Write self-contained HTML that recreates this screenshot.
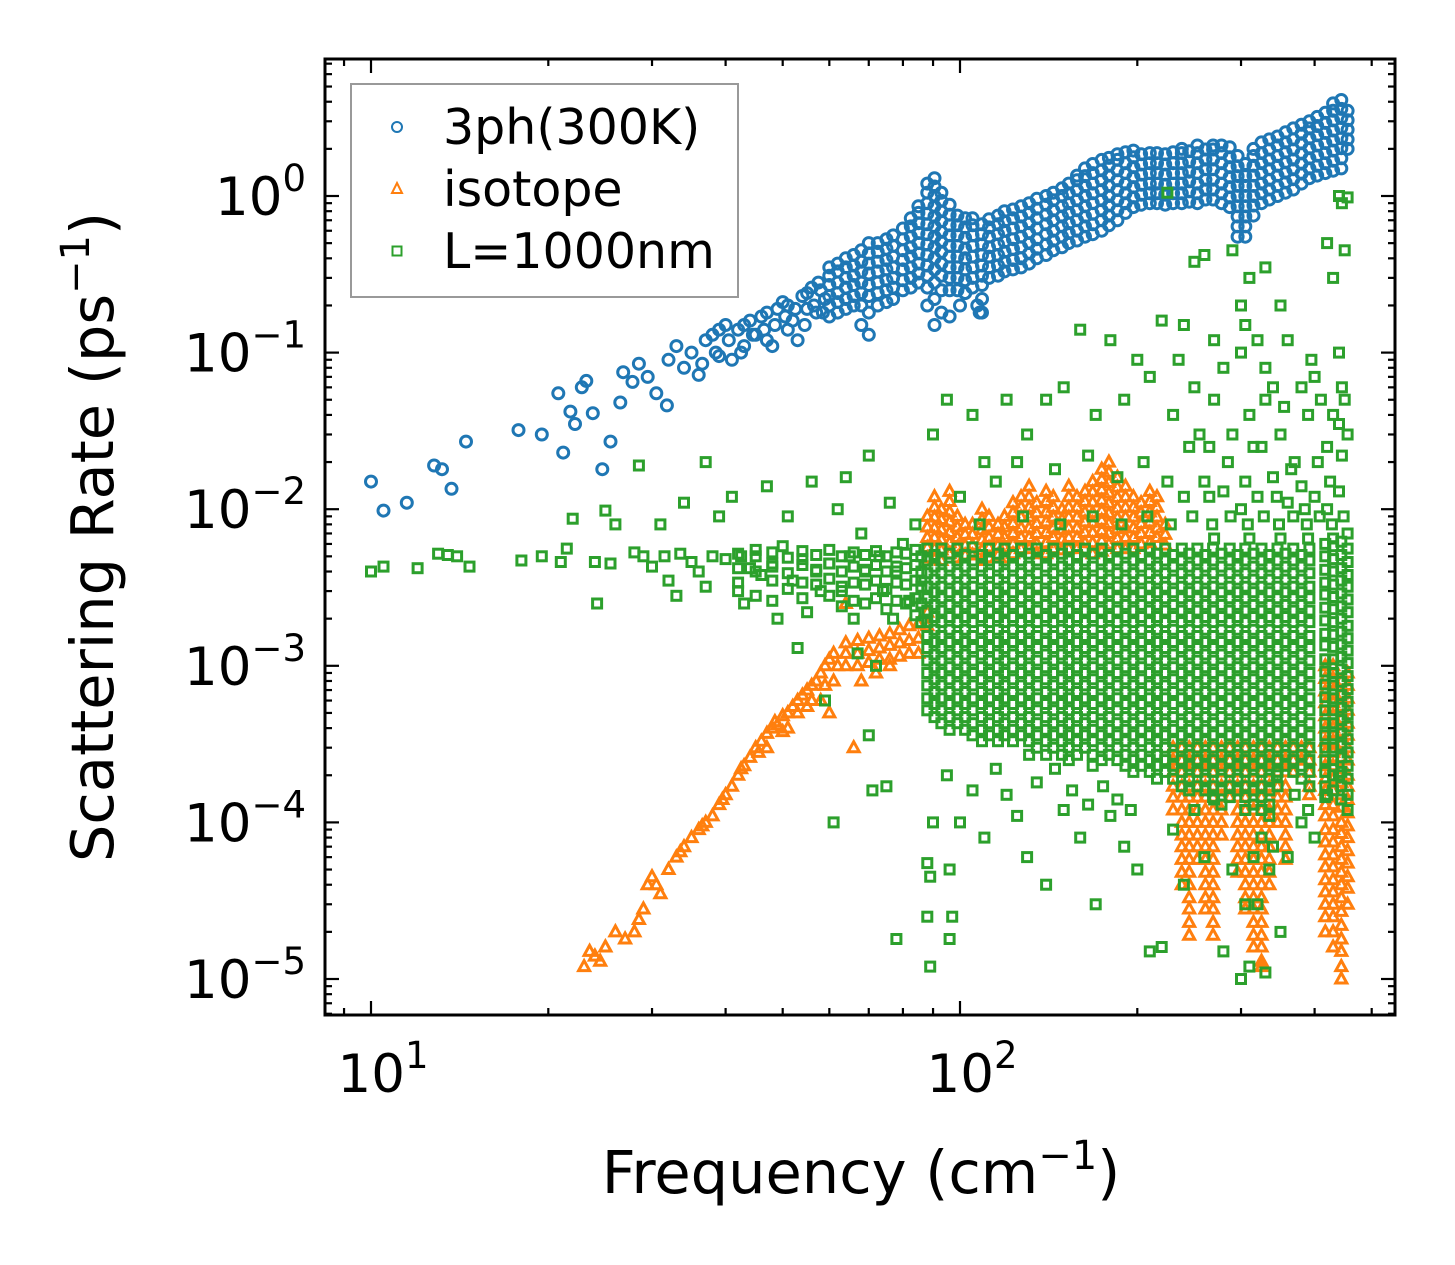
<!DOCTYPE html>
<html><head><meta charset="utf-8"><style>
html,body{margin:0;padding:0;background:#fff;}
svg{display:block;font-family:"DejaVu Sans","Liberation Sans",sans-serif;}
</style></head><body>
<svg id="chart" width="1455" height="1265" viewBox="0 0 1455 1265" xmlns="http://www.w3.org/2000/svg"></svg>
<script>
const seriesNames = ["3ph(300K)", "isotope", "L=1000nm"];
const xTickValues = [10, 100];
const yTickExponents = [0, -1, -2, -3, -4, -5];
// sparse points [frequency cm^-1, rate ps^-1]
const blueData = [[10,.015],[10.5,.0098],[11.5,.011],[12.8,.019],[13.2,.018],[13.7,.0135],[14.5,.027],[17.8,.032],[19.5,.03],[20.8,.055],[21.2,.023],[21.8,.042],[22.2,.035],[22.8,.06],[23.2,.066],[23.8,.041],[24.7,.018],[25.5,.027],[26.5,.048],[26.8,.075],[27.8,.065],[28.5,.085],[29.5,.07],[30.5,.055],[31.8,.046],[32,.09],[33,.11],[34,.08],[35,.1],[36,.072],[37,.12],[38,.13],[39,.095],[40,.15],[41,.09],[42,.14],[43,.11],[44,.16],[45,.13],[46,.17],[47,.12],[48,.11],[49,.19],[50,.21],[51,.14],[52,.16],[53,.12],[54,.23],[55,.19],[56,.26],[57,.18],[58,.25],[59,.22],[36.5,.085],[38.5,.1],[40.5,.12],[42.5,.1],[44.5,.13],[46.5,.14],[48.5,.15],[50.5,.17],[52.5,.19],[54.5,.15],[56.5,.2],[58.5,.18],[39,.14],[43,.15],[47,.18],[51,.2],[55,.24],[57.5,.28],[107,.2],[108,.18],[109,.22],[96,.17],[100,.2],[102,.24]];
// dense band columns: frequency + rates in that column
const blueColFreqs = [60,62,64,66,68,70,72.5,75,77,80,82.5,85,88,90.5,93,96,99,102,105,109,112,116,119,123,127,131,135,140,144,149,153,158,163,168,174,179,185,191,197,203,210,216,223,230,238,245,253,261,269,278,287,296,305,315,325,335,346,357,368,380,392,404,417,430,444,455];
const blueColVals = [[.17,.2,.23,.27,.31,.35],[.18,.21,.24,.28,.33,.37],[.19,.22,.26,.3,.35,.4],[.2,.23,.27,.31,.36,.42],[.15,.2,.24,.28,.33,.38,.45],[.13,.18,.23,.27,.32,.37,.43,.5],[.2,.24,.28,.33,.38,.44,.5],[.21,.25,.29,.34,.39,.46,.53],[.22,.26,.3,.35,.41,.48,.56],[.25,.29,.34,.39,.45,.53,.62],[.26,.3,.35,.41,.47,.55,.64,.72],[.28,.32,.37,.43,.5,.58,.67,.78,.86],[.2,.26,.31,.36,.42,.49,.57,.66,.77,.9,1.05,1.2],[.15,.22,.28,.34,.4,.47,.55,.64,.74,.86,1.0,1.15,1.3],[.18,.25,.31,.37,.44,.51,.59,.69,.8,.93,1.05],[.25,.3,.35,.41,.48,.56,.65,.76,.88],[.25,.3,.35,.41,.48,.56,.65,.75],[.24,.29,.34,.4,.46,.54,.63,.72],[.26,.3,.35,.41,.48,.56,.65,.72],[.18,.27,.31,.36,.42,.49,.57,.66],[.3,.35,.41,.47,.55,.63,.71],[.31,.36,.42,.49,.57,.66,.75],[.33,.38,.44,.51,.6,.69,.8],[.34,.39,.46,.53,.62,.72,.82],[.35,.4,.47,.55,.64,.74,.86],[.37,.43,.5,.58,.67,.78,.9],[.4,.46,.53,.62,.72,.83,.96],[.42,.49,.57,.66,.76,.88,1.0],[.45,.52,.6,.7,.81,.94,1.05],[.47,.55,.64,.74,.86,1.0,1.12],[.5,.58,.67,.78,.9,1.04,1.2],[.52,.6,.7,.81,.94,1.09,1.26,1.35],[.55,.64,.74,.86,1.0,1.16,1.34,1.5],[.57,.66,.77,.9,1.04,1.2,1.4,1.6],[.6,.7,.81,.94,1.09,1.26,1.46,1.7],[.65,.75,.87,1.0,1.16,1.35,1.56,1.75],[.7,.81,.94,1.09,1.26,1.46,1.7,1.85],[.78,.9,1.04,1.2,1.4,1.62,1.9],[.85,.98,1.14,1.32,1.53,1.77,1.95],[.88,1.02,1.18,1.37,1.59,1.85],[.9,1.04,1.2,1.4,1.62,1.88],[.9,1.04,1.2,1.4,1.62,1.88],[.88,1.02,1.18,1.37,1.59,1.85],[.9,1.04,1.2,1.4,1.62,1.9],[.9,1.04,1.2,1.4,1.62,1.88,2.0],[.92,1.07,1.24,1.43,1.66,1.93],[.9,1.04,1.2,1.4,1.62,1.88,2.1],[.95,1.1,1.27,1.48,1.71,1.98],[.95,1.1,1.27,1.48,1.71,1.98,2.1],[.9,1.04,1.2,1.4,1.62,1.88,2.1],[.85,.98,1.14,1.32,1.53,1.77,2.05],[.55,.64,.74,.86,1.0,1.16,1.34,1.55,1.8],[.55,.64,.74,.86,1.0,1.16,1.34,1.6],[.75,.87,1.0,1.16,1.35,1.56,1.8,2.0],[.9,1.04,1.2,1.4,1.62,1.88,2.2],[.95,1.1,1.27,1.48,1.71,1.98,2.3],[1.0,1.16,1.35,1.56,1.8,2.1,2.4],[1.05,1.22,1.41,1.64,1.9,2.2,2.55],[1.1,1.28,1.48,1.71,1.98,2.3,2.7],[1.2,1.39,1.61,1.87,2.17,2.5,2.85],[1.3,1.5,1.74,2.02,2.34,2.7,3.0],[1.35,1.56,1.81,2.1,2.44,2.8,3.2],[1.4,1.62,1.88,2.18,2.53,2.93,3.4],[1.45,1.68,1.95,2.26,2.62,3.04,3.5,3.9],[1.5,1.74,2.02,2.34,2.72,3.15,3.6,4.1],[2.0,2.3,2.65,3.05,3.5]];

const orangeData = [[23,1.2e-5],[23.5,1.5e-5],[24,1.4e-5],[25,1.6e-5],[26,2e-5],[27,1.8e-5],[28,2e-5],[29,2.8e-5],[29.5,4e-5],[30,4.5e-5],[31,3.5e-5],[32,5e-5],[33,6e-5],[34,7e-5],[35,8e-5],[36,9e-5],[37,1e-4],[38,1.1e-4],[39,1.3e-4],[40,1.5e-4],[41,1.7e-4],[42,2e-4],[43,2.3e-4],[44,2.6e-4],[45,3e-4],[46,3.3e-4],[47,3.7e-4],[48,4e-4],[49,4.2e-4],[50,4.8e-4],[51,5e-4],[52,5.5e-4],[53,6e-4],[54,6.5e-4],[55,7e-4],[56,7.5e-4],[57,8e-4],[58,9e-4],[59,1e-3],[60,1.1e-3],[61,1.2e-3],[47,3e-4],[51,4e-4],[55,5.5e-4],[58,6e-4],[61,8e-4],[60,5e-4],[66,3e-4],[24.5,1.3e-5],[28.5,2.4e-5],[30.5,4e-5],[33.5,6.5e-5],[36.5,9.5e-5],[39.5,1.4e-4],[42.5,2.2e-4],[45.5,2.8e-4],[48.5,4.4e-4],[50,3.8e-4],[53,5e-4],[56,6e-4],[59,7.5e-4],[62,1e-3],[64,2.5e-3],[68,8e-4],[72,9e-4],[76,1e-3]];
// isotope dense columns, rates in units of 1e-3 ps^-1
const orangeColFreqs = [64,67,70,73,76,79,82,85,88,90.5,93,96,99,102,105,109,112,116,119,123,127,131,135,140,144,149,153,158,163,168,174,179,185,191,197,203,210,216,223,230,238,245,253,261,269,278,287,296,305,315,325,335,346,357,368,380,392,417,430,444,455];
const orangeColValsMilli = [[1.0,1.2,1.4],[1.0,1.2,1.45],[1.05,1.25,1.5],[1.1,1.3,1.55],[1.1,1.35,1.6],[1.15,1.4,1.7],[1.2,1.45,1.8],[1.2,1.5,1.85],[9,7.7,6.6,5.7,4.9,2.2,1.8],[12,10.3,8.9,7.6,6.6,5.6,4.8],[10,8.6,7.4,6.4,5.5,4.7],[13,11.2,9.6,8.3,7.1,6.1,5.2],[9,7.7,6.6,5.7,4.9],[8,6.9,5.9,5.1],[8,6.9,5.9,5.1],[10,8.6,7.4,6.4,5.5,4.7],[9,7.7,6.6,5.7,4.9],[8,6.9,5.9,5.1],[9,7.7,6.6,5.7,4.9],[11,9.5,8.1,7.0,6.0,5.2],[12,10.3,8.9,7.6,6.6,5.6],[14,12,10.3,8.9,7.6,6.6,5.6],[11,9.5,8.1,7.0,6.0,5.2],[13,11.2,9.6,8.3,7.1,6.1,5.2],[12,10.3,8.9,7.6,6.6,5.6],[10,8.6,7.4,6.4,5.5],[14,12,10.3,8.9,7.6,6.6,5.6],[12,10.3,8.9,7.6,6.6,5.6],[13,11.2,9.6,8.3,7.1,6.1],[15,12.9,11.1,9.5,8.2,7.1,6.1,5.2],[18,15.5,13.3,11.4,9.8,8.5,7.3,6.3,5.4],[20,17.2,14.8,12.7,10.9,9.4,8.1,7.0,6.0],[16,13.8,11.9,10.2,8.8,7.5,6.5,5.6],[14,12,10.3,8.9,7.6,6.6,5.6],[12,10.3,8.9,7.6,6.6,5.6],[11,9.5,8.1,7.0,6.0],[13,11.2,9.6,8.3,7.1,6.1],[12,10.3,8.9,7.6,6.6],[8,6.9,5.9],[.3,.25,.21,.17,.145,.12],[.3,.25,.21,.17,.145,.12,.1,.083,.07,.058,.048,.04],[.3,.25,.21,.17,.145,.12,.1,.083,.07,.058,.048,.04,.033,.028,.023,.019],[.3,.25,.21,.17,.145,.12,.1,.083,.07,.058],[.3,.25,.21,.17,.145,.12,.1,.083,.07,.058,.048,.04,.033,.028],[.3,.25,.21,.17,.145,.12,.1,.083,.07,.058,.048,.04,.033,.028,.023,.019],[.3,.25,.21,.17,.145,.12,.1,.083],[.3,.25,.21,.17,.145],[.3,.25,.21,.17,.145,.12,.1,.083,.07,.058,.048],[.3,.25,.21,.17,.145,.12,.1,.083,.07,.058,.048,.04,.033,.028],[.3,.25,.21,.17,.145,.12,.1,.083,.07,.058,.048,.04,.033,.028,.023,.019,.016],[.3,.25,.21,.17,.145,.12,.1,.083,.07,.058,.048,.04,.033,.028,.023,.019,.016,.013,.012],[.3,.25,.21,.17,.145,.12,.1,.083,.07,.058,.048,.04],[.3,.25,.21,.17,.145,.12,.1],[.3,.25,.21,.17,.145,.12,.1,.083,.07,.058],[.3,.25,.21],[.3,.25],[.3,.25,.21,.17,.15],[1.0,.83,.69,.58,.48,.4,.33,.28,.23,.19,.16,.13,.11,.09,.075,.062,.052,.043,.036,.03,.025,.02],[1.0,.83,.69,.58,.48,.4,.33,.28,.23,.19,.16,.13,.11,.09,.075,.062,.052,.043,.036,.03,.025,.02,.016],[.8,.66,.55,.46,.38,.32,.26,.22,.18,.15,.125,.1,.085,.07,.058,.048,.04,.033,.027,.022,.018,.015,.012,.01],[.9,.75,.62,.52,.43,.36,.3,.25,.2,.17,.14,.115,.095,.08,.066,.055,.045,.038,.03]];

const greenData = [[10,4e-3],[10.5,4.3e-3],[12,4.2e-3],[13,5.2e-3],[13.5,5.1e-3],[14,5e-3],[14.7,4.3e-3],[18,4.7e-3],[19.5,5e-3],[21,4.6e-3],[21.5,5.6e-3],[22,8.7e-3],[24,4.6e-3],[25,9.8e-3],[25.5,4.5e-3],[26,8e-3],[24.2,2.5e-3],[28,5.3e-3],[28.5,1.9e-2],[29,5e-3],[30,4.3e-3],[31,8e-3],[31.5,5e-3],[32,3.5e-3],[33,2.8e-3],[33.5,5.2e-3],[34,1.1e-2],[35,4.6e-3],[36,4e-3],[37,2e-2],[37,3.2e-3],[38,5e-3],[39,9e-3],[40,4.8e-3],[41,1.2e-2],[42,3e-3],[42.5,5e-3],[43,2.5e-3],[44,4.2e-3],[45,5.5e-3],[46,3.8e-3],[47,1.4e-2],[48,4.5e-3],[49,2e-3],[50,5.8e-3],[51,9e-3],[52,3.5e-3],[53,1.3e-3],[54,4.8e-3],[55,2.2e-3],[56,1.5e-2],[57,4e-3],[58,3e-3],[59,6e-4],[60,4.5e-3],[61,1e-4],[62,1e-2],[63,3e-3],[64,1.6e-2],[65,5e-3],[66,2e-3],[67,1.2e-3],[68,7e-3],[69,4e-3],[70,2.2e-2],[70,3.6e-4],[71,1.6e-4],[72,1e-3],[73,5e-3],[74,3e-3],[75,1.7e-4],[76,1.1e-2],[77,2e-3],[78,4e-3],[78,1.8e-5],[80,6e-3],[82,2.6e-3],[84,8e-3],[86,3.5e-3],[88,5.5e-5],[89,1.2e-5],[88,2.5e-5],[89,4.5e-5],[90,1e-4],[97,2.5e-5],[96,1.8e-5],[96,5e-5],
[225,1.05],[440,1.0],[455,.98],[445,.9],[250,.38],[260,.42],[290,.45],[310,.3],[330,.35],[350,.2],[420,.5],[450,.45],[430,.3],[240,.15],[270,.12],[300,.1],[330,.08],[360,.12],[400,.07],[440,.1],[160,.14],[180,.12],[200,.09],[220,.16],[150,.06],[140,.05],[120,.05],[105,.04],[95,.05],[90,.03],[110,.02],[130,.03],[170,.04],[190,.05],[210,.07],[230,.04],[250,.06],[270,.05],[290,.03],[310,.04],[330,.05],[350,.03],[370,.02],[390,.04],[410,.05],[430,.04],[450,.05],[455,.03],[445,.06],[440,.035],[300,.2],[305,.15],[320,.12],[280,.08],[340,.06],[235,.09],[255,.03],[265,.025],[315,.025],[355,.045],[380,.06],[395,.09],[420,.025],
[100,1.2e-2],[115,1.5e-2],[125,2e-2],[145,1.8e-2],[165,2.2e-2],[185,1.6e-2],[205,2e-2],[225,1.5e-2],[245,2.5e-2],[265,1.2e-2],[285,2e-2],[305,1.5e-2],[325,2.5e-2],[345,1.2e-2],[365,1.8e-2],[385,1e-2],[405,2e-2],[425,1.5e-2],[445,2.2e-2],[108,8e-3],[128,9e-3],[148,8e-3],[168,9e-3],[188,8e-3],[208,9e-3],[228,8e-3],[248,9e-3],[268,8e-3],[288,9e-3],[308,8e-3],[328,9e-3],[348,8e-3],[368,9e-3],[388,8e-3],[408,9e-3],[428,8e-3],[448,9e-3],[240,1.2e-2],[260,1.5e-2],[280,1.3e-2],[300,1e-2],[320,1.2e-2],[340,1.6e-2],[360,1.1e-2],[380,1.4e-2],[400,1.2e-2],[420,1e-2],[440,1.3e-2],[270,6.5e-3],[310,6.5e-3],[350,6.5e-3],[390,6.5e-3],[430,6.5e-3],[455,7e-3],
[100,1e-4],[110,8e-5],[120,1.5e-4],[130,6e-5],[140,4e-5],[150,1.2e-4],[160,8e-5],[170,3e-5],[180,1.1e-4],[190,7e-5],[200,5e-5],[210,1.5e-5],[220,1.6e-5],[230,9e-5],[240,4e-5],[260,6e-5],[280,1.5e-5],[300,1e-5],[310,1.2e-5],[320,3e-5],[330,1.1e-5],[340,7e-5],[350,2e-5],[360,6e-5],[370,1.5e-4],[380,1e-4],[390,1.2e-4],[400,8e-5],[420,1.5e-4],[440,2e-4],[455,1.2e-4],[250,1.2e-4],[270,1.4e-4],[290,5e-5],[305,3e-5],[315,6e-5],[325,8e-5],[335,5e-5],[345,2e-4],[95,2e-4],[105,1.6e-4],[115,2.2e-4],[125,1.1e-4],[135,1.8e-4],[145,2.2e-4],[155,1.6e-4],[165,1.3e-4],[175,1.7e-4],[185,1.4e-4],[195,1.2e-4]];
// boundary dense columns, rates in units of 1e-3 ps^-1
const greenColFreqs = [42,45,48,51,54,57,60,63,66,69,72,75,78,81,84,86,88,90.5,93,96,99,102,105,109,112,116,119,123,127,131,135,140,144,149,153,158,163,168,174,179,185,191,197,203,210,216,223,230,238,245,253,261,269,278,287,296,305,315,325,335,346,357,368,380,392,417,430,444,455];
const greenColValsMilli = [[5.2,4.2,3.4],[5.0,4.0,2.8],[5.3,4.3,3.5,2.6],[4.9,3.9,3.1],[5.4,4.4,3.4,2.7],[5.1,4.1,3.3],[5.5,4.5,3.6,2.8],[5.0,4.0,3.2,2.4],[5.3,4.3,3.4,2.6],[5.1,4.1,3.3,2.5],[5.4,4.4,3.5,2.7],[5.0,4.0,3.1,2.3],[5.3,4.3,3.4,2.6],[5.2,4.2,3.3,2.5],[5.5,4.4,3.5,2.7,2.1],[5.0,4.0,3.2,2.5,1.9],
[5.6,4.7,3.9,3.2,2.7,2.25,1.9,1.55,1.3,1.08,.9,.75,.62,.52],
[5.1,4.3,3.55,2.95,2.45,2.05,1.7,1.42,1.18,.98,.82,.68,.57,.47],
[5.6,4.7,3.9,3.2,2.7,2.25,1.9,1.55,1.3,1.08,.9,.75,.62,.52,.43],
[5.2,4.3,3.55,2.95,2.45,2.05,1.7,1.42,1.18,.98,.82,.68,.57,.47,.39],
[5.6,4.7,3.9,3.2,2.7,2.25,1.9,1.55,1.3,1.08,.9,.75,.62,.52,.43],
[5.1,4.3,3.55,2.95,2.45,2.05,1.7,1.42,1.18,.98,.82,.68,.57,.47,.39],
[5.7,4.7,3.9,3.2,2.7,2.25,1.9,1.55,1.3,1.08,.9,.75,.62,.52,.43,.36],
[5.1,4.3,3.55,2.95,2.45,2.05,1.7,1.42,1.18,.98,.82,.68,.57,.47,.39,.33],
[5.6,4.7,3.9,3.2,2.7,2.25,1.9,1.55,1.3,1.08,.9,.75,.62,.52,.43,.36],
[5.2,4.3,3.55,2.95,2.45,2.05,1.7,1.42,1.18,.98,.82,.68,.57,.47,.39,.33],
[5.6,4.7,3.9,3.2,2.7,2.25,1.9,1.55,1.3,1.08,.9,.75,.62,.52,.43,.36],
[5.1,4.3,3.55,2.95,2.45,2.05,1.7,1.42,1.18,.98,.82,.68,.57,.47,.39,.33],
[5.6,4.7,3.9,3.2,2.7,2.25,1.9,1.55,1.3,1.08,.9,.75,.62,.52,.43,.36],
[5.2,4.3,3.55,2.95,2.45,2.05,1.7,1.42,1.18,.98,.82,.68,.57,.47,.39,.33,.27],
[5.6,4.7,3.9,3.2,2.7,2.25,1.9,1.55,1.3,1.08,.9,.75,.62,.52,.43,.36,.3],
[5.1,4.3,3.55,2.95,2.45,2.05,1.7,1.42,1.18,.98,.82,.68,.57,.47,.39,.33,.27],
[5.6,4.7,3.9,3.2,2.7,2.25,1.9,1.55,1.3,1.08,.9,.75,.62,.52,.43,.36,.3],
[5.2,4.3,3.55,2.95,2.45,2.05,1.7,1.42,1.18,.98,.82,.68,.57,.47,.39,.33,.27],
[5.6,4.7,3.9,3.2,2.7,2.25,1.9,1.55,1.3,1.08,.9,.75,.62,.52,.43,.36,.3,.25],
[5.1,4.3,3.55,2.95,2.45,2.05,1.7,1.42,1.18,.98,.82,.68,.57,.47,.39,.33,.27],
[5.6,4.7,3.9,3.2,2.7,2.25,1.9,1.55,1.3,1.08,.9,.75,.62,.52,.43,.36,.3],
[5.2,4.3,3.55,2.95,2.45,2.05,1.7,1.42,1.18,.98,.82,.68,.57,.47,.39,.33,.27,.23],
[5.6,4.7,3.9,3.2,2.7,2.25,1.9,1.55,1.3,1.08,.9,.75,.62,.52,.43,.36,.3,.25],
[5.1,4.3,3.55,2.95,2.45,2.05,1.7,1.42,1.18,.98,.82,.68,.57,.47,.39,.33,.27],
[5.6,4.7,3.9,3.2,2.7,2.25,1.9,1.55,1.3,1.08,.9,.75,.62,.52,.43,.36,.3,.25],
[5.2,4.3,3.55,2.95,2.45,2.05,1.7,1.42,1.18,.98,.82,.68,.57,.47,.39,.33,.27,.23],
[5.6,4.7,3.9,3.2,2.7,2.25,1.9,1.55,1.3,1.08,.9,.75,.62,.52,.43,.36,.3,.25,.21],
[5.1,4.3,3.55,2.95,2.45,2.05,1.7,1.42,1.18,.98,.82,.68,.57,.47,.39,.33,.27,.23],
[5.6,4.7,3.9,3.2,2.7,2.25,1.9,1.55,1.3,1.08,.9,.75,.62,.52,.43,.36,.3,.25,.21],
[5.2,4.3,3.55,2.95,2.45,2.05,1.7,1.42,1.18,.98,.82,.68,.57,.47,.39,.33,.27,.23,.19],
[5.6,4.7,3.9,3.2,2.7,2.25,1.9,1.55,1.3,1.08,.9,.75,.62,.52,.43,.36,.3,.25,.21],
[5.1,4.3,3.55,2.95,2.45,2.05,1.7,1.42,1.18,.98,.82,.68,.57,.47,.39,.33,.27,.23,.19],
[5.6,4.7,3.9,3.2,2.7,2.25,1.9,1.55,1.3,1.08,.9,.75,.62,.52,.43,.36,.3,.25,.21,.17],
[5.2,4.3,3.55,2.95,2.45,2.05,1.7,1.42,1.18,.98,.82,.68,.57,.47,.39,.33,.27,.23,.19,.16],
[5.6,4.7,3.9,3.2,2.7,2.25,1.9,1.55,1.3,1.08,.9,.75,.62,.52,.43,.36,.3,.25,.21,.17],
[5.1,4.3,3.55,2.95,2.45,2.05,1.7,1.42,1.18,.98,.82,.68,.57,.47,.39,.33,.27,.23,.19,.16],
[5.6,4.7,3.9,3.2,2.7,2.25,1.9,1.55,1.3,1.08,.9,.75,.62,.52,.43,.36,.3,.25,.21,.17,.145],
[5.2,4.3,3.55,2.95,2.45,2.05,1.7,1.42,1.18,.98,.82,.68,.57,.47,.39,.33,.27,.23,.19,.16,.13],
[5.6,4.7,3.9,3.2,2.7,2.25,1.9,1.55,1.3,1.08,.9,.75,.62,.52,.43,.36,.3,.25,.21,.17,.145],
[5.1,4.3,3.55,2.95,2.45,2.05,1.7,1.42,1.18,.98,.82,.68,.57,.47,.39,.33,.27,.23,.19,.16],
[5.6,4.7,3.9,3.2,2.7,2.25,1.9,1.55,1.3,1.08,.9,.75,.62,.52,.43,.36,.3,.25,.21,.17,.145,.12],
[5.2,4.3,3.55,2.95,2.45,2.05,1.7,1.42,1.18,.98,.82,.68,.57,.47,.39,.33,.27,.23,.19,.16,.13],
[5.6,4.7,3.9,3.2,2.7,2.25,1.9,1.55,1.3,1.08,.9,.75,.62,.52,.43,.36,.3,.25,.21,.17,.145,.12],
[5.1,4.3,3.55,2.95,2.45,2.05,1.7,1.42,1.18,.98,.82,.68,.57,.47,.39,.33,.27,.23,.19,.16,.13,.11],
[5.6,4.7,3.9,3.2,2.7,2.25,1.9,1.55,1.3,1.08,.9,.75,.62,.52,.43,.36,.3,.25,.21,.17],
[5.2,4.3,3.55,2.95,2.45,2.05,1.7,1.42,1.18,.98,.82,.68,.57,.47,.39,.33,.27,.23],
[5.6,4.7,3.9,3.2,2.7,2.25,1.9,1.55,1.3,1.08,.9,.75,.62,.52,.43,.36,.3,.25,.21],
[5.1,4.3,3.55,2.95,2.45,2.05,1.7,1.42,1.18,.98,.82,.68,.57,.47,.39,.33,.27,.23,.19],
[5.6,4.7,3.9,3.2,2.7,2.25,1.9,1.55,1.3,1.08,.9,.75,.62,.52,.43,.36,.3,.25,.21,.17],
[6.0,5.0,4.1,3.4,2.85,2.35,1.95,1.6,1.35,1.1,.92,.76,.63,.52,.43,.36,.3,.25,.21,.17,.145],
[5.8,4.8,4.0,3.3,2.75,2.3,1.9,1.58,1.32,1.1,.9,.75,.62,.52,.43,.36,.3,.25,.2,.16],
[6.2,5.1,4.2,3.5,2.9,2.4,2.0,1.65,1.37,1.14,.95,.79,.65,.54,.45,.37,.31,.26,.21,.17,.14],
[5.6,4.6,3.8,3.2,2.65,2.2,1.8,1.5,1.25,1.04,.86,.71,.59,.49,.41,.34,.28,.23,.19,.15]];

const NS = "http://www.w3.org/2000/svg";
const svg = document.getElementById("chart");
const L = 325, R = 1395, T = 59, B = 1015;
const x10 = 371, xDec = 589, y0 = 196, yDec = 156.6;
const MILLI = 1e-3;
function xs(f){ return x10 + (Math.log10(f) - 1) * xDec; }
function ys(v){ return y0 - Math.log10(v) * yDec; }
function mk(tag, attrs, parent){
  const e = document.createElementNS(NS, tag);
  for (const k in attrs) e.setAttribute(k, attrs[k]);
  (parent || svg).appendChild(e);
  return e;
}
function expand(pairs, freqs, cols, scale){
  const out = pairs.slice();
  freqs.forEach((f, i) => (cols[i] || []).forEach(v => out.push([f, v * scale])));
  return out;
}
mk("rect",{x:0,y:0,width:1455,height:1265,fill:"#fff"});
const clip = mk("clipPath",{id:"plotclip"});
mk("rect",{x:L,y:T,width:R-L,height:B-T},clip);

const gBlue = mk("g",{"clip-path":"url(#plotclip)",fill:"none",stroke:"#1f77b4","stroke-width":"3"});


expand(blueData, blueColFreqs, blueColVals, 1).forEach(d => {
  const c = mk("circle",{cx:xs(d[0]).toFixed(1),cy:ys(d[1]).toFixed(1),r:5.5},gBlue);
  
  
});
const gOr = mk("g",{"clip-path":"url(#plotclip)",fill:"none",stroke:"#ff7f0e","stroke-width":"3"});


expand(orangeData, orangeColFreqs, orangeColValsMilli, MILLI).forEach(d => {
  const x = xs(d[0]), y = ys(d[1]);
  const p = mk("polygon",{points:`${x.toFixed(1)},${(y-6).toFixed(1)} ${(x+5.5).toFixed(1)},${(y+4).toFixed(1)} ${(x-5.5).toFixed(1)},${(y+4).toFixed(1)}`},gOr);
  
  
});
const gGr = mk("g",{"clip-path":"url(#plotclip)",fill:"none",stroke:"#2ca02c","stroke-width":"3"});


expand(greenData, greenColFreqs, greenColValsMilli, MILLI).forEach(d => {
  const s = mk("rect",{x:(xs(d[0])-4.5).toFixed(1),y:(ys(d[1])-4.5).toFixed(1),width:9,height:9},gGr);
  
  
});

// ticks
const gT = mk("g",{stroke:"#000","stroke-width":"2.2"});


for (let dec = 0; dec <= 2; dec++) for (let m = 1; m <= 9; m++){
  const f = m * Math.pow(10, dec); const x = xs(f);
  if (x < L || x > R) continue;
  const len = m === 1 ? 14 : 7;
  mk("line",{x1:x,y1:B,x2:x,y2:B-len},gT); mk("line",{x1:x,y1:T,x2:x,y2:T+len},gT);
}
for (let dec = -6; dec <= 0; dec++) for (let m = 1; m <= 9; m++){
  const v = m * Math.pow(10, dec); const y = ys(v);
  if (y < T || y > B) continue;
  const len = m === 1 ? 14 : 7;
  mk("line",{x1:L,y1:y,x2:L+len,y2:y},gT); mk("line",{x1:R,y1:y,x2:R-len,y2:y},gT);
}
const frame = mk("rect",{x:L,y:T,width:R-L,height:B-T,fill:"none",stroke:"#000","stroke-width":"3"});



function powLabel(x, y, exp, anchor, name){
  const t = mk("text",{x:x,y:y,"font-size":"53","text-anchor":anchor,fill:"#000"});
  
  
  const a = mk("tspan",{},t); a.textContent = "10";
  const b = mk("tspan",{dy:"-24","font-size":"37"},t); b.textContent = exp;
  return t;
}
xTickValues.forEach(v => {
  const e = Math.round(Math.log10(v));
  powLabel(xs(v) + 12, 1092, String(e), "middle", "x-tick-label");
});
yTickExponents.forEach(e => {
  powLabel(306, ys(Math.pow(10, e)) + 19, e < 0 ? "\u2212" + (-e) : String(e), "end", "y-tick-label");
});

const xl = mk("text",{x:861,y:1193,"font-size":"59","text-anchor":"middle"});


xl.innerHTML = 'Frequency (cm<tspan dy="-24" font-size="40">\u22121</tspan><tspan dy="24">)</tspan>';
const yl = mk("text",{x:0,y:0,"font-size":"59","text-anchor":"middle",transform:"translate(113,537) rotate(-90)"});


yl.innerHTML = 'Scattering Rate (ps<tspan dy="-24" font-size="40">\u22121</tspan><tspan dy="24">)</tspan>';

// legend
const lg = mk("g",{});


mk("rect",{x:351,y:84,width:387,height:213,fill:"#fff","fill-opacity":"0.8",stroke:"#999","stroke-width":"2"},lg);
const ly = [127, 189, 251];
ly.forEach((y, i) => {
  const ent = mk("g",{},lg);
  
  
  if (i === 0) mk("circle",{cx:397,cy:y,r:5,fill:"none",stroke:"#1f77b4","stroke-width":"2"},ent);
  if (i === 1) mk("polygon",{points:`397,${y-6} 402,${y+4} 392,${y+4}`,fill:"none",stroke:"#ff7f0e","stroke-width":"2"},ent);
  if (i === 2) mk("rect",{x:392.5,y:y-4.5,width:9,height:9,fill:"none",stroke:"#2ca02c","stroke-width":"2"},ent);
  const t = mk("text",{x:443,y:y+17,"font-size":"49"},ent);
  t.textContent = seriesNames[i];
});
</script>
</body></html>
